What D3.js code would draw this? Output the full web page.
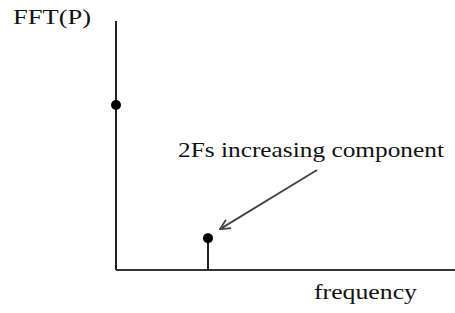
<!DOCTYPE html>
<html>
<head>
<meta charset="utf-8">
<script src="https://cdn.jsdelivr.net/npm/d3@7"></script>
<style>
  body { margin: 0; background: #fff; }
</style>
</head>
<body>
<svg width="455" height="313"></svg>
<script>
// stems: frequency (in units of Fs) and FFT magnitude (relative)
var freqs = [0, 2];
var mags = [0.663, 0.128];
var annotation = "2Fs increasing component";

var svg = d3.select("svg"),
    width = +svg.attr("width"),
    height = +svg.attr("height");

var x = d3.scaleLinear().domain([0, 7.37]).range([116, width]);
var y = d3.scaleLinear().domain([0, 1]).range([270, 21]);

var serif = "'Liberation Serif', 'Times New Roman', Times, serif";

var defs = svg.append("defs");
defs.append("marker")
    .attr("id", "arrow")
    .attr("viewBox", "0 0 12 12")
    .attr("refX", 11)
    .attr("refY", 6)
    .attr("markerWidth", 12)
    .attr("markerHeight", 12)
    .attr("markerUnits", "userSpaceOnUse")
    .attr("orient", "auto")
    .append("path")
    .attr("d", "M1,1 L11,6 L1,11")
    .attr("fill", "none")
    .attr("stroke", "#444")
    .attr("stroke-width", 1.8);

// axes
svg.append("line")
    .attr("x1", x(0)).attr("x2", x(0))
    .attr("y1", y(0)).attr("y2", y(1))
    .attr("stroke", "#222").attr("stroke-width", 2);

svg.append("line")
    .attr("x1", x(0)).attr("x2", width)
    .attr("y1", y(0)).attr("y2", y(0))
    .attr("stroke", "#333").attr("stroke-width", 2);

var data = freqs.map(function (f, i) { return { f: f, m: mags[i] }; });

svg.append("g")
    .selectAll("line")
    .data(data)
    .enter()
    .append("line")
    .attr("x1", function (d) { return x(d.f); })
    .attr("x2", function (d) { return x(d.f); })
    .attr("y1", y(0))
    .attr("y2", function (d) { return y(d.m); })
    .attr("stroke", "#222")
    .attr("stroke-width", 2);

svg.append("g")
    .selectAll("circle")
    .data(data)
    .enter()
    .append("circle")
    .attr("cx", function (d) { return x(d.f); })
    .attr("cy", function (d) { return y(d.m); })
    .attr("r", 5)
    .attr("fill", "#000");

// arrow pointing to the 2Fs stem
svg.append("line")
    .attr("x1", 317).attr("y1", 170)
    .attr("x2", x(2) + 12).attr("y2", y(mags[1]) - 9)
    .attr("stroke", "#444")
    .attr("stroke-width", 1.8)
    .attr("marker-end", "url(#arrow)");

function label(txt, px, py, len) {
    svg.append("text")
        .attr("x", px).attr("y", py)
        .attr("font-family", serif)
        .attr("font-size", 22)
        .attr("fill", "#111")
        .attr("textLength", len)
        .attr("lengthAdjust", "spacingAndGlyphs")
        .text(txt);
}

label("FFT(P)", 13, 24, 78);
label(annotation, 178, 157, 266);
label("frequency", 314, 299, 103);
</script>
</body>
</html>
